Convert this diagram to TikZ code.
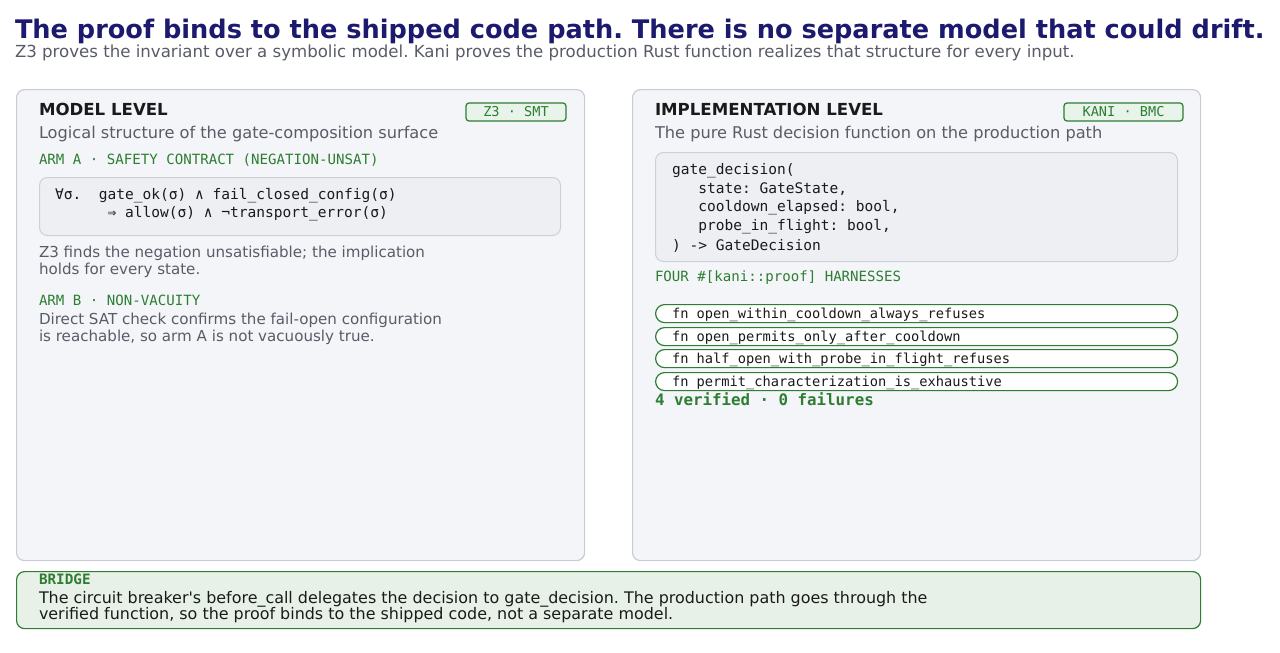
\documentclass[tikz,border=0pt]{standalone}
\usepackage{fontspec}
\setmainfont{DejaVu Sans}
\setmonofont{DejaVu Sans Mono}
\newcommand\fsz[1]{\fontsize{#1}{#1}\selectfont}
\definecolor{navy}{HTML}{1B1A6E}
\definecolor{graytxt}{HTML}{585C66}
\definecolor{darktxt}{HTML}{1A1A1A}
\definecolor{grn}{HTML}{2E7D32}
\definecolor{panelfill}{HTML}{F4F5F9}
\definecolor{panelline}{HTML}{C9CCD6}
\definecolor{codefill}{HTML}{EEEFF3}
\definecolor{codeline}{HTML}{CDD0D8}
\definecolor{badgefill}{HTML}{E8F3EA}
\definecolor{bridgefill}{HTML}{E8F1E8}
\frenchspacing
\begin{document}
\begin{tikzpicture}[x=1pt,y=-1pt,
  txt/.style={anchor=base west, inner sep=0pt, outer sep=0pt},
  title/.style={txt, text=navy, font=\fsz{25.6}\bfseries},
  subtitle/.style={txt, text=graytxt, font=\fsz{16.6}},
  heading/.style={txt, text=darktxt, font=\fsz{16.6}\bfseries},
  desc/.style={txt, text=graytxt, font=\fsz{16.2}},
  body/.style={txt, text=graytxt, font=\fsz{15.1}},
  armlabel/.style={txt, text=grn, font=\fsz{14.1}\ttfamily},
  code/.style={txt, text=darktxt, font=\fsz{14.55}\ttfamily},
  harness/.style={txt, text=darktxt, font=\fsz{13.7}\ttfamily},
  panel/.style={draw=panelline, fill=panelfill, rounded corners=8pt, line width=1.2pt, anchor=north west, inner sep=0pt},
  codebox/.style={draw=codeline, fill=codefill, rounded corners=8pt, line width=1pt, anchor=north west, inner sep=0pt},
  badge/.style={draw=grn, fill=badgefill, rounded corners=3pt, line width=1.2pt, text=grn, font=\fsz{13.6}\ttfamily, inner sep=0pt, minimum height=18pt},
  pill/.style={draw=grn, fill=white, rounded corners=9pt, line width=1.2pt, anchor=north west, inner sep=0pt, minimum width=522pt, minimum height=18pt},
]
\useasboundingbox (0,0) rectangle (1280,653);
\fill[white] (0,0) rectangle (1280,653);

% title
\node[title] (t1) at (15,38) {The proof binds to the shipped code path. There is no separate model that could drift.};
\node[subtitle] (t2) at (15,57) {Z3 proves the invariant over a symbolic model. Kani proves the production Rust function realizes that structure for every input.};

% panels
\node[panel, minimum width=568pt, minimum height=471pt] (lp) at (16,89) {};
\node[panel, minimum width=568pt, minimum height=471pt] (rp) at (632,89) {};

% left panel
\node[heading] (lh) at (39,115) {MODEL LEVEL};
\node[badge, minimum width=100pt] (lb) at (516,112) {Z3 · SMT};
\node[desc] (ld) at (39,138) {Logical structure of the gate-composition surface};
\node[armlabel] (la) at (39,164) {ARM A · SAFETY CONTRACT (NEGATION-UNSAT)};
\node[codebox, minimum width=521pt, minimum height=58pt] (fb) at (39,177) {};
\node[code] (f1) at (55,199) {∀σ.~~gate\_ok(σ) ∧ fail\_closed\_config(σ)};
\node[code] (f2) at (55,217) {~~~~~~⇒ allow(σ) ∧ ¬transport\_error(σ)};
\node[body] (z1) at (39,257) {Z3 finds the negation unsatisfiable; the implication};
\node[body] (z2) at (39,274) {holds for every state.};
\node[armlabel] (lb2) at (39,305) {ARM B · NON-VACUITY};
\node[body] (d1) at (39,324) {Direct SAT check confirms the fail-open configuration};
\node[body] (d2) at (39,341) {is reachable, so arm A is not vacuously true.};

% right panel
\node[heading] (rh) at (655,115) {IMPLEMENTATION LEVEL};
\node[badge, minimum width=119pt] (rb) at (1123.5,112) {KANI · BMC};
\node[desc] (rd) at (655,138) {The pure Rust decision function on the production path};
\node[codebox, minimum width=522pt, minimum height=109pt] (cb) at (655,152) {};
\node[code] (c1) at (672,174) {gate\_decision(};
\node[code] (c2) at (672,193) {~~~state: GateState,};
\node[code] (c3) at (672,211) {~~~cooldown\_elapsed: bool,};
\node[code] (c4) at (672,230) {~~~probe\_in\_flight: bool,};
\node[code] (c5) at (672,250) {) -> GateDecision};
\node[armlabel] (rf) at (655,281) {FOUR \#[kani::proof] HARNESSES};
\node[pill] (p1) at (655,304) {};
\node[pill] (p2) at (655,327) {};
\node[pill] (p3) at (655,349) {};
\node[pill] (p4) at (655,372) {};
\node[harness] (h1) at (672,318) {fn open\_within\_cooldown\_always\_refuses};
\node[harness] (h2) at (672,341) {fn open\_permits\_only\_after\_cooldown};
\node[harness] (h3) at (672,363) {fn half\_open\_with\_probe\_in\_flight\_refuses};
\node[harness] (h4) at (672,386) {fn permit\_characterization\_is\_exhaustive};
\node[txt, text=grn, font=\fsz{15.8}\ttfamily\bfseries] (ver) at (655,405) {4 verified · 0 failures};

% bridge
\node[draw=grn, fill=bridgefill, rounded corners=8pt, line width=1.2pt, anchor=north west, inner sep=0pt, minimum width=1184pt, minimum height=57pt] (br) at (16,571) {};
\node[txt, text=grn, font=\fsz{14.3}\ttfamily\bfseries] (brt) at (39,584) {BRIDGE};
\node[txt, text=darktxt, font=\fsz{15.93}] (b1) at (39,603) {The circuit breaker\textquotesingle s before\_call delegates the decision to gate\_decision. The production path goes through the};
\node[txt, text=darktxt, font=\fsz{15.93}] (b2) at (39,619) {verified function, so the proof binds to the shipped code, not a separate model.};
\end{tikzpicture}
\end{document}
